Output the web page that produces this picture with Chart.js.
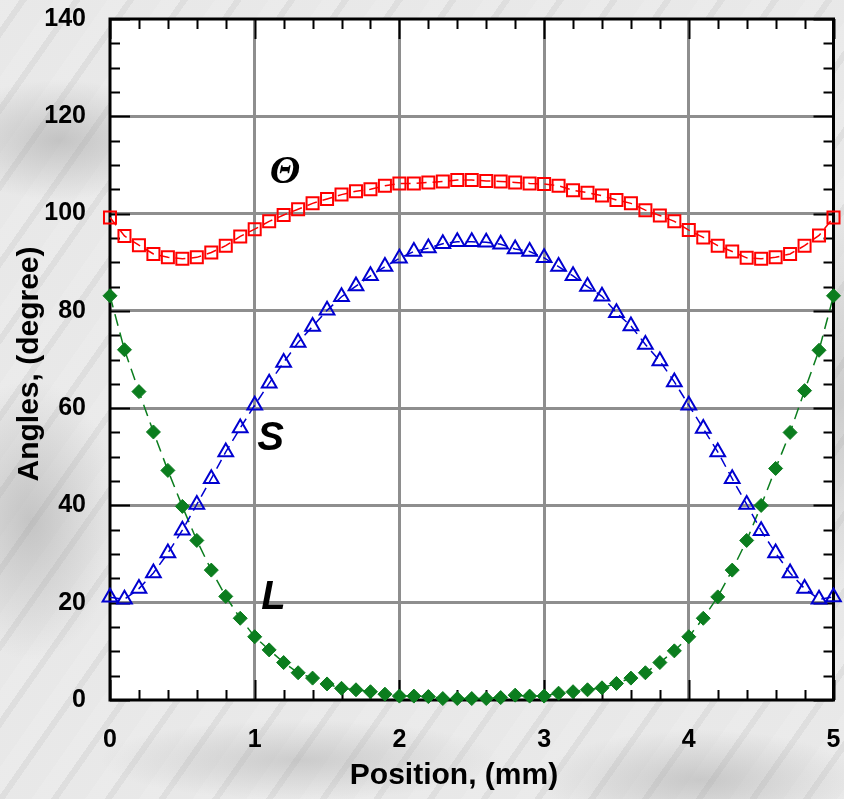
<!DOCTYPE html>
<html lang="en">
<head>
<meta charset="UTF-8">
<title>Angles vs Position</title>
<script src="https://cdn.jsdelivr.net/npm/chart.js"></script>
<style>
    html, body { margin: 0; padding: 0; }
    body {
        width: 844px; height: 799px; overflow: hidden;
        background-color: #e4e4e4;
        background-image:
            radial-gradient(ellipse 120px 60px at 60px 140px, rgba(150,150,150,0.45), transparent),
            radial-gradient(ellipse 90px 140px at 30px 520px, rgba(140,140,140,0.4), transparent),
            radial-gradient(ellipse 200px 40px at 300px 760px, rgba(160,160,160,0.4), transparent),
            radial-gradient(ellipse 160px 50px at 700px 780px, rgba(150,150,150,0.4), transparent),
            radial-gradient(ellipse 60px 200px at 842px 400px, rgba(160,160,160,0.4), transparent),
            repeating-linear-gradient(125deg, rgba(255,255,255,0.25) 0 16px, rgba(190,190,190,0.15) 16px 22px, rgba(245,245,245,0.25) 22px 44px);
    }
    #wrap { position: relative; width: 844px; height: 799px; }
</style>
</head>
<body>
<div id="wrap"><canvas id="grafico"></canvas></div>

<script>
    // posições (mm) e ângulos
    const posicao = [0, 0.1, 0.2, 0.3, 0.4, 0.5, 0.6, 0.7, 0.8, 0.9,
        1.0, 1.1, 1.2, 1.3, 1.4, 1.5, 1.6, 1.7, 1.8, 1.9,
        2.0, 2.1, 2.2, 2.3, 2.4, 2.5, 2.6, 2.7, 2.8, 2.9,
        3.0, 3.1, 3.2, 3.3, 3.4, 3.5, 3.6, 3.7, 3.8, 3.9,
        4.0, 4.1, 4.2, 4.3, 4.4, 4.5, 4.6, 4.7, 4.8, 4.9, 5.0];

    const theta = [99.2, 95.4, 93.5, 91.7, 91.0, 90.7, 91.0, 92.0, 93.4, 95.3,
        96.8, 98.4, 99.7, 100.9, 102.1, 103.0, 103.9, 104.6, 105.0, 105.7,
        106.2, 106.2, 106.4, 106.6, 106.9, 106.9, 106.7, 106.6, 106.4, 106.2,
        106.1, 105.7, 104.8, 104.3, 103.7, 102.8, 102.1, 100.7, 99.6, 98.4,
        96.6, 95.1, 93.4, 92.2, 90.9, 90.7, 91.0, 91.7, 93.4, 95.5, 99.2];

    const angS = [21.1, 20.7, 22.9, 26.1, 30.2, 34.9, 40.2, 45.5, 51.0, 55.9,
        60.6, 65.1, 69.4, 73.5, 76.8, 80.1, 82.9, 85.1, 87.2, 89.1,
        90.8, 92.2, 92.9, 93.8, 94.2, 94.2, 94.1, 93.7, 92.7, 92.2,
        90.9, 89.1, 87.2, 85.0, 83.0, 79.6, 76.9, 73.1, 69.7, 65.4,
        60.6, 55.8, 51.0, 45.5, 40.2, 34.8, 30.2, 26.1, 22.9, 20.7, 21.2];

    const angL = [83.1, 72.0, 63.4, 55.1, 47.2, 39.8, 32.8, 26.7, 21.3, 16.8,
        13.0, 10.3, 7.7, 5.6, 4.5, 3.3, 2.4, 2.1, 1.7, 1.2,
        0.8, 0.8, 0.7, 0.3, 0.3, 0.3, 0.3, 0.5, 1.0, 0.8,
        0.8, 1.4, 1.7, 2.1, 2.5, 3.4, 4.5, 5.6, 7.7, 10.1,
        13.0, 16.8, 21.2, 26.7, 32.8, 40.0, 47.6, 55.0, 63.6, 71.9, 83.1];

    // rótulos das curvas: [texto, x, y]
    const rotulos = [['Θ', 1.21, 108.5], ['S', 1.11, 53.6], ['L', 1.13, 21.0]];

    const pontos = (ys) => posicao.map((x, i) => ({ x: x, y: ys[i] }));

    const fonte = "'Liberation Sans', Arial, sans-serif";

    // fundo branco, moldura, marcas internas e rótulos
    const moldura = {
        id: 'moldura',
        beforeDraw(chart) {
            const { ctx, chartArea: a } = chart;
            ctx.save();
            ctx.fillStyle = '#ffffff';
            ctx.fillRect(a.left, a.top, a.right - a.left, a.bottom - a.top);
            ctx.restore();
        },
        beforeDatasetsDraw(chart) {
            const { ctx, chartArea: a, scales } = chart;
            const sx = scales.x, sy = scales.y;
            ctx.save();
            ctx.strokeStyle = '#000';
            ctx.lineWidth = 2;
            ctx.beginPath();
            // eixo x: menor a cada 0.2, maior a cada 1
            for (let k = 0; k <= 25; k++) {
                const v = k / 5;
                const px = Math.round(sx.getPixelForValue(v)) + 0.5;
                const len = (k % 5 === 0) ? 20 : 10;
                ctx.moveTo(px, a.bottom); ctx.lineTo(px, a.bottom - len);
                ctx.moveTo(px, a.top); ctx.lineTo(px, a.top + len);
            }
            // eixo y: menor a cada 5, maior a cada 20
            for (let v = 0; v <= 140; v += 5) {
                const py = Math.round(sy.getPixelForValue(v)) + 0.5;
                const len = (v % 20 === 0) ? 20 : 10;
                ctx.moveTo(a.left, py); ctx.lineTo(a.left + len, py);
                ctx.moveTo(a.right, py); ctx.lineTo(a.right - len, py);
            }
            ctx.stroke();
            ctx.lineWidth = 3;
            ctx.strokeRect(a.left, a.top, a.right - a.left, a.bottom - a.top);
            ctx.restore();
        },
        afterDatasetsDraw(chart) {
            const { ctx, scales } = chart;
            ctx.save();
            ctx.fillStyle = '#000';
            ctx.textAlign = 'center';
            ctx.textBaseline = 'middle';
            rotulos.forEach(([t, x, y]) => {
                ctx.font = t === 'Θ'
                    ? "italic bold 40px 'Liberation Serif', serif"
                    : 'italic bold 40px ' + fonte;
                ctx.fillText(t, scales.x.getPixelForValue(x), scales.y.getPixelForValue(y));
            });
            // títulos dos eixos
            ctx.font = 'bold 30px ' + fonte;
            ctx.fillText('Position, (mm)', 454, 776);
            ctx.translate(30, 364);
            ctx.rotate(-Math.PI / 2);
            ctx.fillText('Angles, (degree)', 0, 0);
            ctx.restore();
        }
    };

    const gradeCor = (limMax) => (c) =>
        (c.tick && (c.tick.value === 0 || c.tick.value === limMax)) ? 'rgba(0,0,0,0)' : '#8e8e8e';

    const ctxGrafico = document.getElementById('grafico').getContext('2d');

    new Chart(ctxGrafico, {
        type: 'line',
        data: {
            datasets: [
                {
                    label: 'Theta',
                    data: pontos(theta),
                    borderColor: '#ff0000',
                    backgroundColor: 'rgba(0,0,0,0)',
                    borderWidth: 1.5,
                    borderDash: [10, 6],
                    pointStyle: 'rect',
                    pointRadius: 8.5,
                    pointBorderWidth: 2,
                    pointBorderColor: '#ff0000',
                    pointBackgroundColor: 'rgba(255,255,255,0)',
                    clip: false
                },
                {
                    label: 'S',
                    data: pontos(angS),
                    borderColor: '#0000d0',
                    backgroundColor: 'rgba(0,0,0,0)',
                    borderWidth: 1.5,
                    borderDash: [10, 6],
                    pointStyle: 'triangle',
                    pointRadius: 8.5,
                    pointBorderWidth: 2,
                    pointBorderColor: '#0000d0',
                    pointBackgroundColor: 'rgba(255,255,255,0)',
                    clip: false
                },
                {
                    label: 'L',
                    data: pontos(angL),
                    borderColor: '#0b7d1e',
                    backgroundColor: '#0b7d1e',
                    borderWidth: 1.5,
                    borderDash: [12, 7],
                    pointStyle: 'rectRot',
                    pointRadius: 7,
                    pointBorderWidth: 1,
                    pointBorderColor: '#0b7d1e',
                    pointBackgroundColor: '#0b7d1e',
                    clip: false
                }
            ]
        },
        options: {
            responsive: true,
            maintainAspectRatio: false,
            animation: false,
            layout: { padding: { top: 19, right: 6, left: 0, bottom: 0 } },
            plugins: {
                legend: { display: false },
                tooltip: { enabled: false }
            },
            scales: {
                x: {
                    type: 'linear',
                    min: 0, max: 5,
                    afterFit: (s) => { s.height = 99; s.paddingLeft = 0; s.paddingRight = 0; },
                    ticks: {
                        stepSize: 1,
                        padding: 25,
                        color: '#000',
                        font: { family: fonte, size: 25, weight: 'bold' }
                    },
                    grid: { color: gradeCor(5), lineWidth: 3, drawTicks: false },
                    border: { display: false }
                },
                y: {
                    min: 0, max: 140,
                    afterFit: (s) => { s.width = 110; s.paddingTop = 0; s.paddingBottom = 0; },
                    ticks: {
                        stepSize: 20,
                        padding: 24,
                        color: '#000',
                        font: { family: fonte, size: 25, weight: 'bold' }
                    },
                    grid: { color: gradeCor(140), lineWidth: 3, drawTicks: false },
                    border: { display: false }
                }
            }
        },
        plugins: [moldura]
    });
</script>
</body>
</html>
